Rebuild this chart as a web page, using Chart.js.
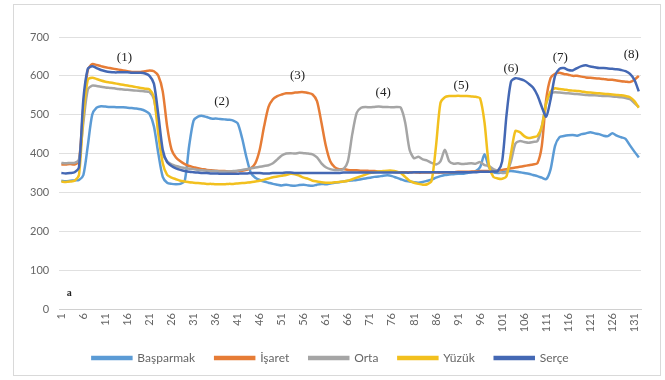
<!DOCTYPE html>
<html>
<head>
<meta charset="utf-8">
<script src="https://cdn.jsdelivr.net/npm/chart.js@4.4.1/dist/chart.umd.min.js"></script>
<style>
  html, body { margin: 0; padding: 0; background: #fff; }
  #kutu { position: absolute; left: 0; top: 0; width: 665px; height: 380px; }
  #cerceve { position: absolute; left: 13px; top: 4px; width: 648px; height: 372px; border: 1px solid #d9d9d9; box-sizing: border-box; }
</style>
</head>
<body>
<div id="kutu">
  <div id="cerceve"></div>
  <canvas id="grafik" width="665" height="380"></canvas>
</div>
<script>
// x ekseni: 1..132 örnek
const etiketler = [];
for (let i = 1; i <= 132; i++) etiketler.push(String(i));

const basparmak = [
  330, 329, 330, 331, 332, 345, 420, 500, 518, 522,
  521, 520, 520, 519, 519, 518, 517, 516, 514, 510,
  502, 470, 400, 340, 325, 322, 321, 322, 330, 420,
  485, 495, 497, 494, 490, 490, 489, 488, 487, 485,
  478, 440, 390, 350, 338, 332, 328, 325, 322, 320,
  318, 320, 318, 317, 319, 320, 318, 317, 320, 322,
  321, 323, 325, 326, 328, 330, 331, 332, 334, 336,
  338, 340, 341, 343, 344, 342, 338, 334, 330, 328,
  326, 325, 327, 330, 333, 338, 342, 345, 346, 347,
  348, 348, 350, 352, 355, 365, 398, 365, 352, 350,
  352, 354, 355, 354, 352, 350, 348, 345, 342, 338,
  334, 360, 420, 442, 445, 447, 448, 446, 450, 452,
  455, 452, 450, 446, 445, 452, 446, 442, 438, 421,
  405, 390
];

const isaret = [
  372, 372, 373, 372, 380, 520, 615, 630, 628, 625,
  622, 620, 618, 616, 614, 612, 610, 610, 610, 612,
  614, 612, 600, 560, 470, 410, 390, 380, 373, 368,
  365, 362, 360, 358, 357, 356, 355, 355, 354, 354,
  355, 356, 358, 362, 375, 410, 470, 520, 540, 548,
  552, 555, 555, 557, 558, 558, 556, 552, 535, 480,
  420, 380, 365, 360, 360, 358, 357, 357, 356, 356,
  355, 355, 354, 354, 353, 353, 352, 352, 352, 352,
  352, 351, 351, 351, 351, 351, 351, 352, 352, 352,
  353, 353, 353, 354, 354, 355, 355, 355, 356, 356,
  358, 360, 362, 364, 366, 368, 370, 372, 375, 420,
  540, 595, 605, 608, 605, 603, 600, 600, 598, 596,
  595, 594, 593, 592, 590, 590, 588, 586, 585, 584,
  590, 600
];

const orta = [
  376, 375, 376, 376, 385, 480, 565, 575, 574, 572,
  570, 569, 568, 566, 565, 564, 563, 562, 561, 560,
  558, 540, 470, 400, 380, 372, 368, 365, 363, 361,
  360, 358, 357, 356, 355, 355, 354, 354, 354, 355,
  356, 358, 360, 362, 364, 366, 368, 370, 375, 385,
  395, 400, 401, 400, 402, 401, 400, 398, 390, 375,
  365, 360, 358, 358, 360, 380, 450, 505, 518, 520,
  519, 520, 521, 520, 520, 519, 520, 518, 480, 410,
  388, 392, 385, 382, 376, 372, 380, 410, 380, 374,
  375, 373, 374, 375, 374, 378, 370, 368, 360, 355,
  350, 352, 380, 425, 432, 430, 428, 430, 432, 470,
  530, 555, 558, 557, 556, 555, 554, 553, 552, 551,
  550, 550, 549, 548, 548, 547, 546, 545, 543, 540,
  530, 520
];

const yuzuk = [
  328, 327, 328, 330, 345, 500, 590, 595, 592, 588,
  585, 583, 581, 579, 577, 575, 573, 571, 569, 567,
  565, 545, 450, 375, 345, 338, 334, 330, 328, 326,
  325, 324, 323, 322, 322, 321, 321, 321, 322, 322,
  323, 324, 325, 326, 328, 330, 333, 336, 339, 341,
  343, 345, 348, 347, 343, 338, 335, 330, 328, 326,
  325, 325, 326, 327, 328, 330, 334, 338, 342, 346,
  350, 352, 354, 355, 356, 356, 354, 350, 340, 330,
  325, 322, 320, 321, 330, 420, 530, 545, 548, 548,
  549, 548, 548, 547, 546, 542, 480, 370, 340, 336,
  335, 342, 400, 458, 455, 445, 440, 442, 445, 470,
  530, 560, 568, 566, 565, 563, 562, 561, 560, 558,
  557, 556, 555, 554, 553, 552, 551, 550, 548, 545,
  535, 518
];

const serce = [
  350, 349, 350, 352, 365, 540, 618, 625, 620, 615,
  612, 610, 609, 609, 609, 609, 608, 608, 608, 606,
  600, 580, 500, 410, 378, 368, 362, 358, 355, 353,
  352, 351, 350, 350, 349, 349, 348, 348, 348, 348,
  348, 349, 349, 350, 350, 350, 349, 349, 350, 350,
  350, 351, 351, 350, 350, 350, 350, 350, 350, 350,
  350, 350, 350, 350, 351, 351, 351, 351, 351, 351,
  351, 351, 351, 351, 351, 351, 351, 351, 351, 351,
  352, 352, 352, 352, 352, 352, 352, 352, 352, 352,
  352, 352, 352, 352, 352, 353, 353, 353, 354, 355,
  380, 500, 585, 594, 592, 588, 580, 570, 550, 520,
  495, 540, 600, 618, 620, 615, 614, 620, 625, 627,
  624, 622, 620, 620, 619, 618, 617, 615, 612, 605,
  590, 560
];

const seriAdlari = ['Başparmak', 'İşaret', 'Orta', 'Yüzük', 'Serçe'];
const seriRenkleri = ['#5b9bd5', '#e67c36', '#a5a5a5', '#f2c01e', '#4468b4'];

// bölge etiketleri: (sıra no, değer)
const bolgeEtiketleri = ['(1)', '(2)', '(3)', '(4)', '(5)', '(6)', '(7)', '(8)'];
const bolgeX = [15.3, 37.4, 54.6, 74, 91.7, 103, 114.2, 130.3];
const bolgeY = [646, 535, 602, 556, 576, 620, 646, 654];

const eksenYazi = '#666666';
const izgara = '#e0e0e0';

const pluginBolgeler = {
  id: 'pluginBolgeler',
  afterDatasetsDraw(chart) {
    const { ctx, scales: { x, y } } = chart;
    ctx.save();
    ctx.fillStyle = '#222';
    ctx.textAlign = 'center';
    ctx.textBaseline = 'middle';
    ctx.font = '13px "Liberation Serif", serif';
    bolgeEtiketleri.forEach((t, k) => {
      ctx.fillText(t, x.getPixelForValue(bolgeX[k] - 1), y.getPixelForValue(bolgeY[k]));
    });
    ctx.font = 'bold 10px "Liberation Serif", serif';
    ctx.fillText('a', x.getPixelForValue(1.8), y.getPixelForValue(39));
    ctx.restore();
  }
};

const seriler = [basparmak, isaret, orta, yuzuk, serce];

new Chart(document.getElementById('grafik'), {
  type: 'line',
  data: {
    labels: etiketler,
    datasets: seriler.map((d, k) => ({
      label: seriAdlari[k],
      data: d,
      borderColor: seriRenkleri[k],
      backgroundColor: seriRenkleri[k],
      borderWidth: 2.5,
      pointRadius: 0,
      tension: 0.25,
      fill: false,
      order: 5 - k
    }))
  },
  options: {
    responsive: false,
    animation: false,
    layout: { padding: { left: 20, right: 24, top: 37, bottom: 6 } },
    plugins: {
      tooltip: { enabled: false },
      legend: {
        position: 'bottom',
        labels: {
          boxWidth: 39,
          boxHeight: 2,
          padding: 20,
          color: eksenYazi,
          font: { family: 'Lato', size: 12 },
          sort: (a, b) => a.datasetIndex - b.datasetIndex
        }
      }
    },
    scales: {
      x: {
        offset: true,
        grid: { display: false, drawTicks: false },
        border: { color: '#d0d0d0' },
        afterFit: (s) => { s.height = 23; },
        ticks: {
          autoSkip: false,
          minRotation: 90,
          maxRotation: 90,
          padding: 4,
          color: eksenYazi,
          font: { family: 'Lato', size: 11 },
          callback: (v, i) => (i % 5 === 0 ? etiketler[i] : '')
        }
      },
      y: {
        min: 0,
        max: 700,
        grid: { color: izgara, drawTicks: false },
        border: { display: false },
        ticks: {
          stepSize: 100,
          padding: 10,
          color: eksenYazi,
          font: { family: 'Lato', size: 11 }
        }
      }
    }
  },
  plugins: [pluginBolgeler]
});
</script>
</body>
</html>
